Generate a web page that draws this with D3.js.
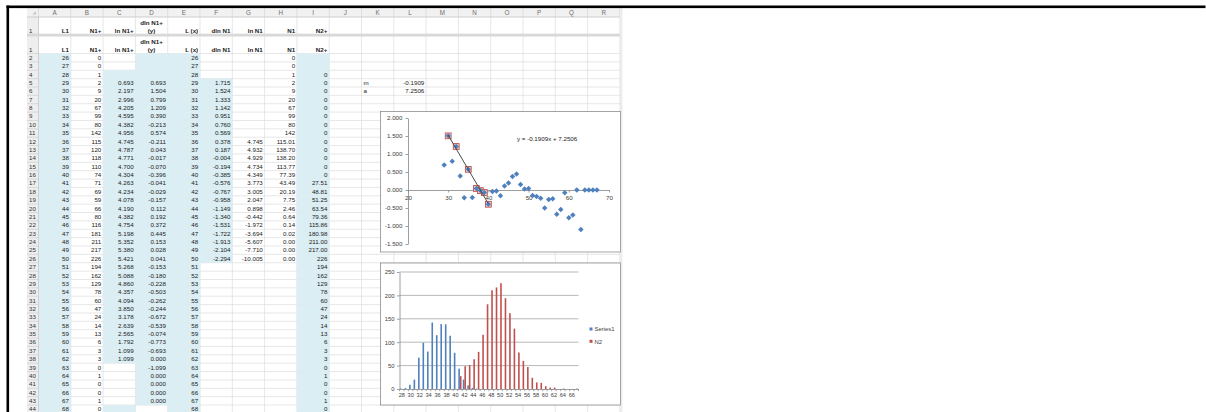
<!DOCTYPE html>
<html><head><meta charset="utf-8">
<script src="https://cdn.jsdelivr.net/npm/d3@7/dist/d3.min.js"></script>
<style>
html,body{margin:0;padding:0;background:#fff;}
svg{display:block;}
text{font-family:"Liberation Sans",Arial,sans-serif;}
</style></head><body>
<svg id="c" width="1206" height="412"></svg>
<script>
// ---------------- DATA ----------------
const colLetters = ["A","B","C","D","E","F","G","H","I","J","K","L","M","N","O","P","Q","R"];
const headerRow = ["L1","N1+","ln N1+","dln N1+\n(y)","L (x)","dln N1","ln N1","N1","N2+"];
const L1 = [26,27,28,29,30,31,32,33,34,35,36,37,38,39,40,41,42,43,44,45,46,47,48,49,50,51,52,53,54,55,56,57,58,59,60,61,62,63,64,65,66,67,68];
const N1plus = ["0","0","1","2","9","20","67","99","80","142","115","120","118","110","74","71","69","59","66","80","116","181","211","217","226","194","162","129","78","60","47","24","14","13","6","3","3","0","1","0","0","1","0"];
const lnN1plus = ["","","","0.693","2.197","2.996","4.205","4.595","4.382","4.956","4.745","4.787","4.771","4.700","4.304","4.263","4.234","4.078","4.190","4.382","4.754","5.198","5.352","5.380","5.421","5.268","5.088","4.860","4.357","4.094","3.850","3.178","2.639","2.565","1.792","1.099","1.099","","","","","",""];
const dlnN1plus = ["","","","0.693","1.504","0.799","1.209","0.390","-0.213","0.574","-0.211","0.043","-0.017","-0.070","-0.396","-0.041","-0.029","-0.157","0.112","0.192","0.372","0.445","0.153","0.028","0.041","-0.153","-0.180","-0.228","-0.503","-0.262","-0.244","-0.672","-0.539","-0.074","-0.773","-0.693","0.000","-1.099","0.000","0.000","0.000","0.000",""];
const Lx = [26,27,28,29,30,31,32,33,34,35,36,37,38,39,40,41,42,43,44,45,46,47,48,49,50,51,52,53,54,55,56,57,58,59,60,61,62,63,64,65,66,67,68];
const dlnN1 = ["","","","1.715","1.524","1.333","1.142","0.951","0.760","0.569","0.378","0.187","-0.004","-0.194","-0.385","-0.576","-0.767","-0.958","-1.149","-1.340","-1.531","-1.722","-1.913","-2.104","-2.294","","","","","","","","","","","","","","","","","",""];
const lnN1 = ["","","","","","","","","","","4.745","4.932","4.929","4.734","4.349","3.773","3.005","2.047","0.898","-0.442","-1.972","-3.694","-5.607","-7.710","-10.005","","","","","","","","","","","","","","","","","",""];
const N1 = ["0","0","1","2","9","20","67","99","80","142","115.01","138.70","138.20","113.77","77.39","43.49","20.19","7.75","2.46","0.64","0.14","0.02","0.00","0.00","0.00","","","","","","","","","","","","","","","","","",""];
const N2plus = ["","","0","0","0","0","0","0","0","0","0","0","0","0","0","27.51","48.81","51.25","63.54","79.36","115.86","180.98","211.00","217.00","226","194","162","129","78","60","47","24","14","13","6","3","3","0","1","0","0","1","0"];
const fitNames = ["m","a"];
const fitValues = ["-0.1909","7.2506"];

// chart 1 (scatter dln N1+ vs L(x)) + fitted subset and trend line
const fitX = [30,32,35,37,38,39,40];
const slope = -0.1909, intercept = 7.2506;
const trendLabel = "y = -0.1909x + 7.2506";
const yTicks1 = [-1.5,-1,-0.5,0,0.5,1,1.5,2];
const xTicks1 = [20,30,40,50,60,70];

// chart 2 (clustered columns)
const barCats = [28,29,30,31,32,33,34,35,36,37,38,39,40,41,42,43,44,45,46,47,48,49,50,51,52,53,54,55,56,57,58,59,60,61,62,63,64,65,66,67];
const xTickLabels2 = ["28","30","32","34","36","38","40","42","44","46","48","50","52","54","56","58","60","62","64","66"];
const yTicks2 = [0,50,100,150,200,250];
const seriesNames = ["Series1","N2"];

// ---------------- DRAW ----------------
const svg = d3.select("#c");
svg.append("rect").attr("width",1206).attr("height",412).attr("fill","#fff");

const colX0 = 38.5, colW = 32.3, rowHdrX = 27, sheetRight = colX0 + 18*colW;
const colLeft = i => colX0 + i*colW;
const hdrTop = 8, hdrBot = 17, r1aBot = 34, sepBot = 36.5, r1bBot = 53.5;
const rowTop = r => 53.5 + (r-2)*8.37;
const FS = 6.2;

const tableCols = [L1.map(String), N1plus, lnN1plus, dlnN1plus, Lx.map(String), dlnN1, lnN1, N1, N2plus];
function isBlue(c, r){
  if(c===0||c===4||c===8) return true;
  if(c===2) return !(r<=3 || (r>=39&&r<=43));
  if(c===3) return r!==44;
  if(c===5) return r>=5 && r<=26;
  return false;
}
const nRows = L1.length;

const sheet = svg.append("g");
const grid = sheet.append("g").attr("stroke","#dcdcdc").attr("stroke-width",0.7);
for(let i=0;i<=18;i++){
  grid.append("line").attr("x1",colLeft(i)).attr("x2",colLeft(i)).attr("y1",hdrBot).attr("y2",412);
}
[r1aBot, r1bBot].forEach(y=>grid.append("line").attr("x1",rowHdrX).attr("x2",sheetRight).attr("y1",y).attr("y2",y));
for(let r=3;r<=45;r++){
  grid.append("line").attr("x1",rowHdrX).attr("x2",sheetRight).attr("y1",rowTop(r)).attr("y2",rowTop(r));
}
for(let c=0;c<9;c++){
  for(let k=0;k<nRows;k++){
    const r=k+2;
    if(isBlue(c,r)) sheet.append("rect").attr("x",colLeft(c)).attr("y",rowTop(r)).attr("width",colW+0.3).attr("height",8.4).attr("fill","#dbeef4");
  }
}
sheet.append("rect").attr("x",rowHdrX).attr("y",hdrBot).attr("width",colX0-rowHdrX).attr("height",412-hdrBot).attr("fill","#eeeeee");
const rh = sheet.append("g").attr("stroke","#cfcfcf").attr("stroke-width",0.7);
[r1aBot, r1bBot].forEach(y=>rh.append("line").attr("x1",rowHdrX).attr("x2",colX0).attr("y1",y).attr("y2",y));
for(let r=3;r<=45;r++) rh.append("line").attr("x1",rowHdrX).attr("x2",colX0).attr("y1",rowTop(r)).attr("y2",rowTop(r));
sheet.append("line").attr("x1",colX0).attr("x2",colX0).attr("y1",hdrBot).attr("y2",412).attr("stroke","#c4c4c4").attr("stroke-width",0.7);
sheet.append("rect").attr("x",rowHdrX).attr("y",hdrTop).attr("width",sheetRight-rowHdrX).attr("height",hdrBot-hdrTop).attr("fill","#f1f1f1");
sheet.append("line").attr("x1",rowHdrX).attr("x2",sheetRight).attr("y1",hdrBot).attr("y2",hdrBot).attr("stroke","#c4c4c4").attr("stroke-width",0.8);
for(let i=0;i<=18;i++) sheet.append("line").attr("x1",colLeft(i)).attr("x2",colLeft(i)).attr("y1",hdrTop).attr("y2",hdrBot).attr("stroke","#d6d6d6").attr("stroke-width",0.7);
sheet.append("path").attr("d",`M${colX0-2.5},${hdrBot-2.5}L${colX0-2.5},${hdrBot-6}L${colX0-6},${hdrBot-2.5}Z`).attr("fill","#c8c8c8");
sheet.selectAll("text.cl").data(colLetters).join("text").attr("class","cl")
  .attr("x",(d,i)=>colLeft(i)+colW/2).attr("y",15.2).attr("text-anchor","middle")
  .attr("font-size",6.3).attr("fill","#6e6e6e").text(d=>d);
sheet.append("rect").attr("x",rowHdrX).attr("y",r1aBot).attr("width",sheetRight-rowHdrX).attr("height",sepBot-r1aBot).attr("fill","#d8d8d8");
sheet.append("rect").attr("x",sheetRight).attr("y",hdrTop).attr("width",2.5).attr("height",412-hdrTop).attr("fill","#ececec");

const rowNums = [{t:"1",y:32.6},{t:"1",y:51.6}].concat(L1.map((d,k)=>({t:String(k+2),y:rowTop(k+2)+6.4})));
sheet.selectAll("text.rn").data(rowNums).join("text").attr("class","rn")
  .attr("x",29).attr("y",d=>d.y).attr("font-size",FS).attr("fill","#333").text(d=>d.t);

[[24.8,32.6],[44.2,51.6]].forEach(([y1b,y2b])=>{
  headerRow.forEach((h,c)=>{
    const parts = h.split("\n");
    if(parts.length===2){
      const cx = colLeft(c)+colW/2;
      sheet.append("text").attr("x",cx).attr("y",y1b).attr("text-anchor","middle").attr("font-size",FS).attr("font-weight","bold").attr("fill","#222").text(parts[0]);
      sheet.append("text").attr("x",cx).attr("y",y2b).attr("text-anchor","middle").attr("font-size",FS).attr("font-weight","bold").attr("fill","#222").text(parts[1]);
    } else {
      sheet.append("text").attr("x",colLeft(c+1)-1.8).attr("y",y2b).attr("text-anchor","end").attr("font-size",FS).attr("font-weight","bold").attr("fill","#222").text(h);
    }
  });
});
tableCols.forEach((col,c)=>{
  sheet.append("g").selectAll("text").data(col).join("text")
    .attr("x",colLeft(c+1)-1.8).attr("y",(d,k)=>rowTop(k+2)+6.4)
    .attr("text-anchor","end").attr("font-size",FS).attr("fill","#222").text(d=>d);
});
fitNames.forEach((n,k)=>{
  sheet.append("text").attr("x",colLeft(10)+2).attr("y",rowTop(5+k)+6.4).attr("font-size",FS).attr("fill","#222").text(n);
  sheet.append("text").attr("x",colLeft(12)-1.8).attr("y",rowTop(5+k)+6.4).attr("text-anchor","end").attr("font-size",FS).attr("fill","#222").text(fitValues[k]);
});

svg.append("rect").attr("x",6.5).attr("y",5.5).attr("width",1199).attr("height",2.6).attr("fill","#000");
svg.append("rect").attr("x",6.5).attr("y",5.5).attr("width",2.6).attr("height",406.5).attr("fill","#000");

function styleAxis(g, fs){
  g.attr("font-size",null).attr("font-family",null);
  g.selectAll("text").attr("font-size",fs).attr("fill","#404040");
  g.selectAll("path.domain").attr("stroke","#868686").attr("stroke-width",0.8);
  g.selectAll(".tick line").attr("stroke","#868686").attr("stroke-width",0.8);
}

// ---------------- CHART 1 ----------------
const scatter = Lx.map((x,k)=>({x, y: dlnN1plus[k]===""?null:+dlnN1plus[k]})).filter(d=>d.y!==null);
const fitPts = scatter.filter(d=>fitX.includes(d.x));
const c1 = svg.append("g");
c1.append("rect").attr("x",380.5).attr("y",111.5).attr("width",240).attr("height",140.5).attr("fill","#fff").attr("stroke","#8e8e8e").attr("stroke-width",0.8);
const x1 = d3.scaleLinear().domain([20,70]).range([408,609]);
const y1 = d3.scaleLinear().domain([-1.5,2]).range([244,118]);
const ax1y = c1.append("g").attr("transform",`translate(${x1(20)},0)`)
  .call(d3.axisLeft(y1).tickValues(yTicks1).tickFormat(d=>d.toFixed(3)).tickSize(2.5).tickSizeOuter(0).tickPadding(3));
styleAxis(ax1y, 6.2);
const ax1x = c1.append("g").attr("transform",`translate(0,${y1(0)})`)
  .call(d3.axisBottom(x1).tickValues(xTicks1).tickFormat(d=>String(d)).tickSize(2.5).tickSizeOuter(0).tickPadding(3.5));
styleAxis(ax1x, 6.2);
c1.selectAll("rect.fp").data(fitPts).join("rect").attr("class","fp")
  .attr("x",d=>x1(d.x)-2.9).attr("y",d=>y1(d.y)-2.9).attr("width",5.8).attr("height",5.8)
  .attr("fill","#f2d4d3").attr("stroke","#c0504d").attr("stroke-width",0.9);
c1.selectAll("path.pt").data(scatter).join("path").attr("class","pt")
  .attr("d",d3.symbol(d3.symbolSquare,15))
  .attr("transform",d=>`translate(${x1(d.x)},${y1(d.y)}) rotate(45)`)
  .attr("fill","#4f81bd");
const tx = d3.extent(fitPts,d=>d.x);
c1.append("line").attr("x1",x1(tx[0])).attr("y1",y1(slope*tx[0]+intercept))
  .attr("x2",x1(tx[1])).attr("y2",y1(slope*tx[1]+intercept))
  .attr("stroke","#4a4a4a").attr("stroke-width",1);
c1.append("text").attr("x",517).attr("y",141.2).attr("font-size",6.2).attr("fill","#222").text(trendLabel);

// ---------------- CHART 2 ----------------
const valAt = (arr, cat) => { const k = L1.indexOf(cat); const s = arr[k]; return s===""||s===undefined?0:+s; };
const bars = barCats.map(c=>({c, v:[valAt(N1,c), valAt(N2plus,c)]}));
const c2 = svg.append("g");
c2.append("rect").attr("x",380.5).attr("y",263).attr("width",240).attr("height",142).attr("fill","#fff").attr("stroke","#8e8e8e").attr("stroke-width",0.8);
const x2 = d3.scaleBand().domain(barCats).range([399.5,578.5]).paddingInner(0).paddingOuter(0);
const y2 = d3.scaleLinear().domain([0,250]).range([389,272]);
c2.selectAll("line.gl").data(yTicks2.filter(t=>t>0)).join("line").attr("class","gl")
  .attr("x1",x2.range()[0]).attr("x2",x2.range()[1]).attr("y1",d=>y2(d)).attr("y2",d=>y2(d))
  .attr("stroke","#a6a6a6").attr("stroke-width",0.8);
const ax2y = c2.append("g").attr("transform",`translate(${x2.range()[0]},0)`)
  .call(d3.axisLeft(y2).tickValues(yTicks2).tickFormat(d=>String(d)).tickSize(2.5).tickSizeOuter(0).tickPadding(2.5));
styleAxis(ax2y, 5.9);
const step = x2.bandwidth(), bw = step/2.8, off = (step-2*bw)/2;
const colors = ["#4f81bd","#c0504d"];
[0,1].forEach(s=>{
  c2.append("g").selectAll("rect").data(bars).join("rect")
    .attr("x",d=>x2(d.c)+off+s*bw).attr("width",bw)
    .attr("y",d=>y2(d.v[s])).attr("height",d=>y2(0)-y2(d.v[s]))
    .attr("fill",colors[s]);
});
const ax2x = c2.append("g").attr("transform",`translate(0,${y2(0)})`)
  .call(d3.axisBottom(x2).tickValues(barCats.filter(c=>xTickLabels2.includes(String(c)))).tickFormat(d=>String(d)).tickSize(0).tickSizeOuter(0).tickPadding(4.5));
styleAxis(ax2x, 5.6);
c2.selectAll("line.bt").data(barCats.concat([null])).join("line").attr("class","bt")
  .attr("x1",(d,i)=>x2.range()[0]+i*step).attr("x2",(d,i)=>x2.range()[0]+i*step)
  .attr("y1",y2(0)).attr("y2",y2(0)+2.2).attr("stroke","#868686").attr("stroke-width",0.7);
seriesNames.forEach((n,i)=>{
  c2.append("rect").attr("x",589.5).attr("y",327.5+i*12.3).attr("width",3).attr("height",3).attr("fill",colors[i]);
  c2.append("text").attr("x",594.5).attr("y",331.2+i*12.3).attr("font-size",5.9).attr("fill","#404040").text(n);
});
</script>
</body></html>
